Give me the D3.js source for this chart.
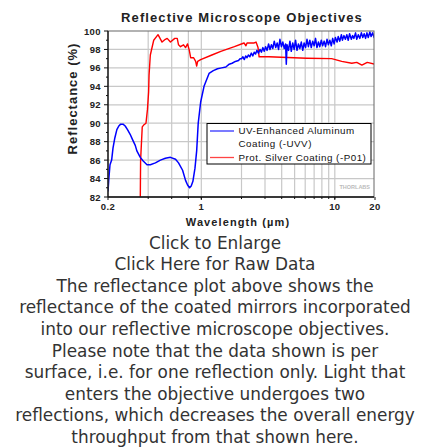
<!DOCTYPE html>
<html><head><meta charset="utf-8">
<script src="https://cdn.jsdelivr.net/npm/d3@7"></script>
<style>
html,body{margin:0;padding:0;background:#fff;}
svg{display:block;}
</style></head>
<body>
<svg id="chart" width="430" height="448"></svg>
<script>
const title = "Reflective Microscope Objectives";
const xLabel = "Wavelength (µm)";
const yLabel = "Reflectance (%)";
const seriesNames = ["UV-Enhanced Aluminum", "Coating (-UVV)", "Prot. Silver Coating (-P01)"];
const xTickValues = [0.2, 1, 10, 20];
const xTickLabels = ["0.2", "1", "10", "20"];
const xGridValues = [0.4, 0.6, 0.8, 1, 2, 3, 4, 5, 6, 7, 8, 9, 10];
const yTickValues = [82, 84, 86, 88, 90, 92, 94, 96, 98, 100];
const yMinorValues = [83, 85, 87, 89, 91, 93, 95, 97, 99];

// UV-Enhanced Aluminum (-UVV)
const blueWavelength = [0.200,0.203,0.207,0.213,0.218,0.225,0.233,0.241,0.249,0.259,0.269,0.280,0.293,0.306,0.320,0.329,0.349,0.367,0.392,0.415,0.453,0.494,0.538,0.587,0.641,0.675,0.724,0.762,0.789,0.817,0.840,0.865,0.896,0.923,0.948,0.989,1.048,1.143,1.230,1.322,1.420,1.527,1.618,1.700,1.800,1.900,1.950,
2.00,2.05,2.10,2.15,2.20,2.25,2.31,2.37,2.43,2.49,2.55,2.61,2.68,2.75,2.82,2.89,2.96,3.03,3.11,3.19,3.27,3.35,3.43,3.52,3.61,3.70,3.79,3.88,3.98,4.08,4.18,4.28,4.33,4.39,4.50,4.61,4.72,4.84,4.96,5.08,5.21,5.34,5.47,5.61,5.75,5.89,6.04,6.19,6.34,6.50,6.66,6.83,7.00,7.17,7.35,7.54,7.72,7.92,8.11,8.32,8.52,8.74,8.95,9.18,9.41,9.64,9.88,10.1,10.4,10.6,10.9,11.2,11.4,11.7,12.0,12.3,12.6,12.9,13.3,13.6,13.9,14.3,14.6,15.0,15.4,15.8,16.2,16.6,17.0,17.4,17.8,18.3,18.7,19.2,19.7,20.0];
const blueReflectance = [82.6,84.0,85.5,86.0,87.3,88.4,89.3,89.7,89.9,89.9,89.7,89.3,88.8,88.2,87.6,87.0,86.3,85.9,85.5,85.5,85.7,86.0,86.2,86.3,86.1,85.7,84.9,83.8,83.3,83.0,83.2,83.7,85.1,87.0,90.0,92.3,94.0,95.4,95.7,95.9,96.0,96.1,96.4,96.5,96.7,96.8,97.0,
97.0,97.2,96.9,97.3,97.1,97.4,97.2,97.6,97.3,97.7,97.5,97.9,97.6,98.0,97.7,98.2,97.8,98.3,97.9,98.6,98.0,98.5,98.1,98.9,98.2,98.7,98.0,99.1,98.3,98.8,98.1,98.6,96.4,98.5,97.9,98.9,97.8,98.7,98.0,99.0,97.9,98.6,98.1,98.8,97.9,98.7,98.2,99.1,98.3,99.0,98.2,98.9,98.4,99.2,98.2,98.8,98.3,99.0,98.4,98.9,98.3,99.1,98.5,99.0,98.4,99.2,98.6,99.3,98.8,99.4,98.9,99.6,99.0,99.5,99.1,99.6,99.0,99.7,99.1,99.5,99.2,99.8,99.1,99.6,99.2,99.8,99.3,99.7,99.2,99.8,99.3,99.9,99.4,99.8,99.3,99.7];

// Protected Silver (-P01)
const redWavelength = [0.349,0.350,0.351,0.361,0.370,0.385,0.395,0.403,0.406,0.415,0.440,0.474,0.508,0.538,0.555,0.587,0.633,0.660,0.675,0.698,0.736,0.762,0.789,0.813,0.832,0.876,0.907,0.923,0.939,0.989,1.20,1.40,1.77,2.09,2.16,2.20,2.49,2.57,2.66,2.71,3.20,3.97,6.14,9.47,11.27,13.4,14.6,15.95,17.5,20.0];
const redReflectance = [81.5,84.0,86.0,89.6,89.8,90.0,91.5,93.4,95.2,97.4,99.0,99.6,98.8,99.1,99.2,98.8,99.2,99.2,98.5,98.3,98.5,98.2,98.6,97.9,97.1,97.1,96.7,96.2,96.7,96.9,97.4,97.8,98.3,98.7,98.4,98.7,98.7,98.8,98.2,97.2,97.2,97.15,97.05,97.0,96.7,96.5,96.6,96.3,96.6,96.4];

const svg = d3.select("#chart");
const L = 108, R = 374, T = 31, B = 197;

const x = d3.scaleLog().domain([0.2, 20]).range([L, R + 1]);
const y = d3.scaleLinear().domain([82, 100]).range([B, T]);

const g = svg.append("g");

// grid
g.selectAll(".gx").data(xGridValues).enter().append("line")
  .attr("x1", d => x(d)).attr("x2", d => x(d)).attr("y1", T).attr("y2", B)
  .attr("stroke", "#c8c8c8").attr("stroke-width", 1.2);
g.selectAll(".gy").data(yTickValues.slice(1, -1)).enter().append("line")
  .attr("x1", L).attr("x2", R).attr("y1", d => y(d)).attr("y2", d => y(d))
  .attr("stroke", "#c8c8c8").attr("stroke-width", 1.2);

// clip
svg.append("defs").append("clipPath").attr("id", "clip")
  .append("rect").attr("x", L).attr("y", T).attr("width", R - L).attr("height", B - T);

const line = d3.line().x(d => x(d[0])).y(d => y(d[1]));
const blueData = blueWavelength.map((w, i) => [w, blueReflectance[i]]);
const redData = redWavelength.map((w, i) => [w, redReflectance[i]]);

const curves = g.append("g").attr("clip-path", "url(#clip)");
curves.append("path").datum(redData).attr("d", line)
  .attr("fill", "none").attr("stroke", "#ff0000").attr("stroke-width", 1.4).attr("stroke-linejoin", "round");
curves.append("path").datum(blueData).attr("d", line)
  .attr("fill", "none").attr("stroke", "#0000ff").attr("stroke-width", 1.5).attr("stroke-linejoin", "round");

// frame
g.append("rect").attr("x", L).attr("y", T).attr("width", R - L).attr("height", B - T)
  .attr("fill", "none").attr("stroke", "#666").attr("stroke-width", 1);
g.append("line").attr("x1", L).attr("x2", L).attr("y1", T).attr("y2", B).attr("stroke", "#111").attr("stroke-width", 1.3);
g.append("line").attr("x1", L).attr("x2", R).attr("y1", B).attr("y2", B).attr("stroke", "#111").attr("stroke-width", 1.3);

// y ticks
g.selectAll(".ty").data(yTickValues).enter().append("line")
  .attr("x1", L - 4).attr("x2", L).attr("y1", d => y(d)).attr("y2", d => y(d)).attr("stroke", "#111");
g.selectAll(".tym").data(yMinorValues).enter().append("line")
  .attr("x1", L - 2).attr("x2", L).attr("y1", d => y(d)).attr("y2", d => y(d)).attr("stroke", "#111");
g.selectAll(".ly").data(yTickValues).enter().append("text")
  .attr("x", L - 7).attr("y", d => y(d) + 3.5).attr("text-anchor", "end")
  .attr("font-family", "Liberation Sans, Arial, sans-serif").attr("font-weight", "bold")
  .attr("font-size", "9.5px").attr("letter-spacing", "0.4px").attr("fill", "#222")
  .text(d => d);

// x ticks
g.selectAll(".tx").data(xTickValues).enter().append("line")
  .attr("x1", d => x(d)).attr("x2", d => x(d)).attr("y1", B).attr("y2", B + 3).attr("stroke", "#111");
g.selectAll(".txm").data(xGridValues).enter().append("line")
  .attr("x1", d => x(d)).attr("x2", d => x(d)).attr("y1", B).attr("y2", B + 2).attr("stroke", "#111");
g.selectAll(".lx").data(xTickValues).enter().append("text")
  .attr("x", d => x(d)).attr("y", B + 13).attr("text-anchor", "middle")
  .attr("font-family", "Liberation Sans, Arial, sans-serif").attr("font-weight", "bold")
  .attr("font-size", "9.5px").attr("letter-spacing", "0.4px").attr("fill", "#222")
  .text((d, i) => xTickLabels[i]);

// titles
svg.append("text").attr("x", 242).attr("y", 22).attr("text-anchor", "middle")
  .attr("font-family", "Liberation Sans, Arial, sans-serif").attr("font-weight", "bold")
  .attr("font-size", "13px").attr("letter-spacing", "1.1px").attr("fill", "#222").text(title);
svg.append("text").attr("x", 238).attr("y", 226).attr("text-anchor", "middle")
  .attr("font-family", "Liberation Sans, Arial, sans-serif").attr("font-weight", "bold")
  .attr("font-size", "11px").attr("letter-spacing", "1.1px").attr("fill", "#222").text(xLabel);
svg.append("text").attr("transform", "translate(77,98.5) rotate(-90)").attr("text-anchor", "middle")
  .attr("font-family", "Liberation Sans, Arial, sans-serif").attr("font-weight", "bold")
  .attr("font-size", "13px").attr("letter-spacing", "1px").attr("fill", "#222").text(yLabel);

// legend
const lg = svg.append("g");
lg.append("rect").attr("x", 207).attr("y", 123.5).attr("width", 164).attr("height", 40.5)
  .attr("fill", "#fff").attr("stroke", "#000").attr("stroke-width", 1);
const legColors = ["#3333ff", null, "#ff4444"];
const legY = [131, 144, 157.5];
seriesNames.forEach((s, i) => {
  if (legColors[i]) {
    lg.append("line").attr("x1", 210).attr("x2", 234).attr("y1", legY[i]).attr("y2", legY[i])
      .attr("stroke", legColors[i]).attr("stroke-width", 1.3);
  }
  lg.append("text").attr("x", 238.5).attr("y", legY[i] + 3.3)
    .attr("font-family", "Liberation Sans, Arial, sans-serif").attr("font-size", "9.8px")
    .attr("letter-spacing", "0.5px").attr("fill", "#111").text(s);
});
svg.append("text").attr("x", 370).attr("y", 189).attr("text-anchor", "end")
  .attr("font-family", "Liberation Sans, Arial, sans-serif").attr("font-size", "5.5px")
  .attr("font-weight", "bold").attr("fill", "#bbb").text("THORLABS");

// caption
const caption = ["Click to Enlarge", "Click Here for Raw Data", "The reflectance plot above shows the",
  "reflectance of the coated mirrors incorporated", "into our reflective microscope objectives.",
  "Please note that the data shown is per", "surface, i.e. for one reflection only. Light that",
  "enters the objective undergoes two", "reflections, which decreases the overall energy",
  "throughput from that shown here."];
svg.selectAll(".cap").data(caption).enter().append("text")
  .attr("x", 215).attr("y", (d, i) => 248.5 + i * 21.6).attr("text-anchor", "middle")
  .attr("font-family", "DejaVu Sans, Verdana, sans-serif").attr("font-size", "16.9px")
  .attr("fill", "#333").text(d => d);
</script>
</body></html>
